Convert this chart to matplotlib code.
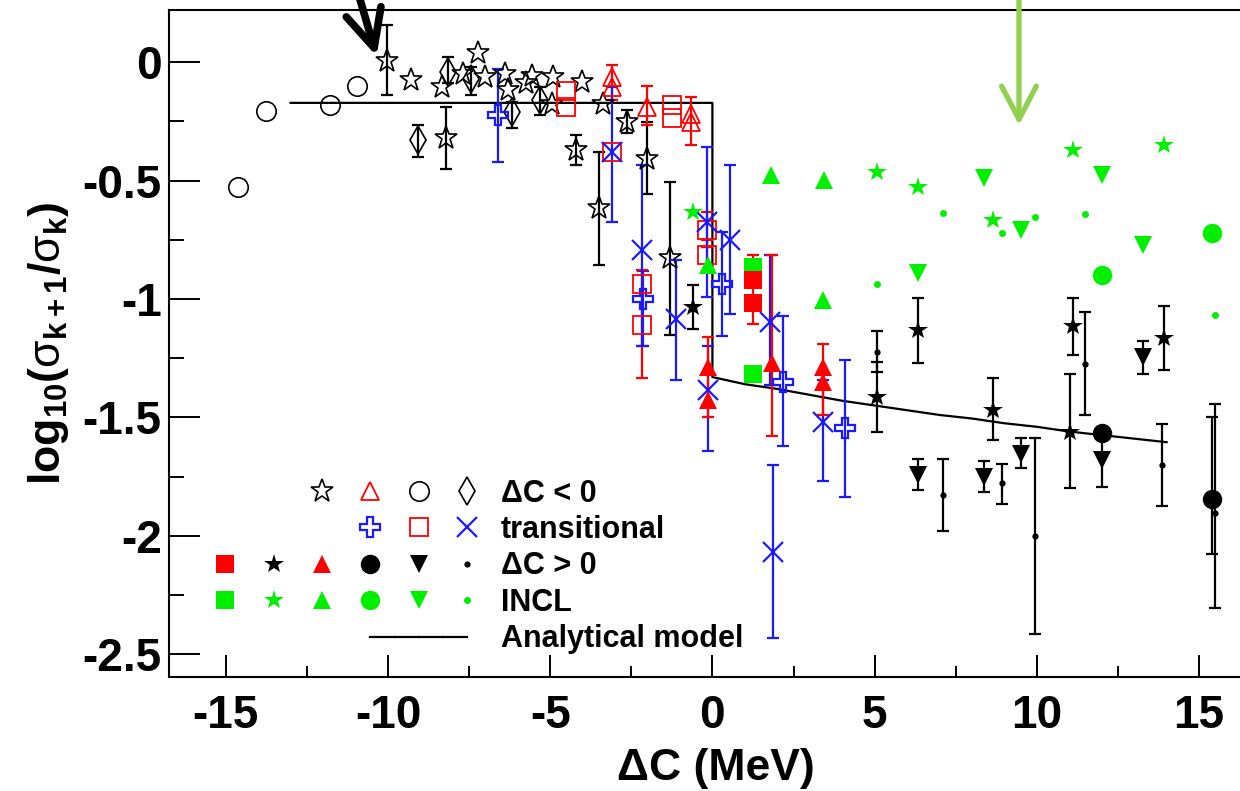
import numpy as np
import matplotlib
matplotlib.use("Agg")
import matplotlib.pyplot as plt
from matplotlib.lines import Line2D
from matplotlib.legend_handler import HandlerTuple

nan = np.nan

# Delta C < 0 : open markers
star_open_x = [-10.02, -9.30, -8.34, -8.21, -7.22, -7.68, -7.01, -6.39, -6.29, -5.75,
               -5.57, -4.90, -4.95, -4.03, -3.36, -2.64, -4.20, -3.50, -2.03, -1.31]
star_open_y = [0.004, -0.076, -0.104, -0.322, 0.037, -0.048, -0.062, -0.048, -0.118, -0.090,
               -0.060, -0.062, -0.175, -0.083, -0.175, -0.252, -0.372, -0.618, -0.407, -0.829]
star_open_lo = [-0.139, nan, nan, -0.452, nan, nan, nan, nan, nan, nan,
                nan, nan, nan, nan, nan, -0.301, -0.435, -0.857, -0.557, -1.153]
star_open_hi = [0.156, nan, nan, -0.189, nan, nan, nan, nan, nan, nan,
                nan, nan, nan, nan, nan, -0.203, -0.308, -0.379, -0.252, -0.508]

diam_x = [-8.14, -7.45, -9.07, -6.19, -5.31]
diam_y = [-0.041, -0.073, -0.329, -0.210, -0.160]
diam_lo = [-0.090, -0.139, -0.400, -0.280, -0.224]
diam_hi = [0.020, -0.020, -0.266, -0.170, -0.104]

circ_open_x = [-14.61, -13.77, -11.79, -10.96]
circ_open_y = [-0.527, -0.207, -0.179, -0.101]

tri_open_x = [-3.09, -3.09, -2.03, -0.66, -0.66]
tri_open_y = [-0.062, -0.104, -0.189, -0.217, -0.252]
tri_open_lo = [nan, -0.160, -0.266, nan, -0.352]
tri_open_hi = [nan, -0.013, -0.101, nan, -0.147]

# transitional
plus_x = [-6.60, -2.13, 0.31, 2.17, 4.09]
plus_y = [-0.224, -1.001, -0.935, -1.350, -1.547]
plus_lo = [-0.421, -1.200, -1.157, -1.622, -1.836]
plus_hi = [-0.031, -0.880, -0.717, -1.073, -1.258]

sq_open_x = [-4.52, -4.52, -1.24, -1.24, -3.09, -2.18, -2.18, -0.18, -0.18]
sq_open_y = [-0.121, -0.191, -0.182, -0.238, -0.379, -0.935, -1.111, -0.709, -0.815]
sq_open_lo = [nan, nan, nan, nan, nan, nan, -1.336, -0.780, -0.880]
sq_open_hi = [nan, nan, nan, nan, nan, nan, -0.878, -0.632, -0.750]

cross_x = [-3.09, -2.18, -1.13, -0.18, 0.54, -0.13, 1.78, 1.86, 3.42]
cross_y = [-0.379, -0.794, -1.083, -0.674, -0.752, -1.385, -1.097, -2.068, -1.519]
cross_lo = [-0.674, -1.200, -1.343, -0.991, -1.064, -1.641, -1.364, -2.430, -1.769]
cross_hi = [-0.104, -0.435, -0.836, -0.358, -0.435, -1.200, -0.815, -1.702, -1.343]

# Delta C > 0 : filled markers
sq_red_x = [1.24, 1.24]
sq_red_y = [-0.920, -1.019]
sq_red_lo = [nan, -1.106]
sq_red_hi = [nan, -0.815]

star_x = [-0.61, 6.33, 11.13, 13.92, 5.06, 8.66, 11.02]
star_y = [-1.033, -1.132, -1.115, -1.167, -1.413, -1.467, -1.561]
star_lo = [-1.125, -1.272, -1.237, -1.300, -1.564, -1.594, -1.800]
star_hi = [-0.942, -0.994, -0.994, -1.030, -1.266, -1.336, -1.315]

tri_red_x = [-0.13, -0.13, 1.85, 3.42, 3.42]
tri_red_y = [-1.287, -1.427, -1.272, -1.287, -1.350]
tri_red_lo = [nan, -1.500, -1.579, nan, -1.490]
tri_red_hi = [nan, -1.160, -0.815, nan, -1.190]

circ_x = [12.02, 15.41]
circ_y = [-1.568, -1.843]
circ_lo = [nan, -2.078]
circ_hi = [nan, -1.500]

dtri_x = [13.28, 12.02, 6.33, 8.37, 9.50]
dtri_y = [-1.244, -1.681, -1.744, -1.751, -1.653]
dtri_lo = [-1.315, -1.793, -1.807, -1.815, -1.716]
dtri_hi = [-1.178, -1.568, -1.678, -1.685, -1.586]

dot_x = [5.06, 11.49, 7.12, 8.94, 9.94, 13.87, 15.49]
dot_y = [-1.223, -1.275, -1.826, -1.779, -2.000, -1.702, -1.902]
dot_lo = [-1.310, -1.491, -1.979, -1.864, -2.416, -1.874, -2.307]
dot_hi = [-1.136, -1.057, -1.674, -1.695, -1.586, -1.529, -1.444]

# INCL
incl_sq_x = [1.24, 1.24]
incl_sq_y = [-0.864, -1.315]
incl_star_x = [-0.61, 5.06, 6.33, 8.66, 11.13, 13.92]
incl_star_y = [-0.632, -0.463, -0.527, -0.667, -0.372, -0.348]
incl_tri_x = [-0.13, 1.81, 3.43, 3.42]
incl_tri_y = [-0.857, -0.477, -0.498, -1.005]
incl_circ_x = [12.02, 15.41]
incl_circ_y = [-0.900, -0.723]
incl_dtri_x = [8.37, 9.50, 6.33, 12.02, 13.28]
incl_dtri_y = [-0.491, -0.709, -0.892, -0.477, -0.773]
incl_dot_x = [5.06, 7.12, 8.94, 9.94, 11.49, 15.49]
incl_dot_y = [-0.938, -0.639, -0.723, -0.656, -0.642, -1.068]

# analytical model
model_x = [-13.0, 0.0, 0.0, 1, 2, 3, 4, 5, 6, 7, 8, 9, 10, 11, 12, 13, 14]
model_y = [-0.172, -0.172, -1.330, -1.360, -1.380, -1.405, -1.430, -1.450, -1.470,
           -1.490, -1.505, -1.525, -1.540, -1.560, -1.575, -1.590, -1.605]

plt.rcParams['font.family'] = ['Liberation Sans', 'DejaVu Sans']
plt.rcParams['font.weight'] = 'bold'
plt.rcParams['mathtext.fontset'] = 'custom'
plt.rcParams['mathtext.rm'] = 'Liberation Sans:weight=normal'
plt.rcParams['mathtext.it'] = 'Liberation Sans:weight=normal'
plt.rcParams['mathtext.bf'] = 'Liberation Sans:weight=bold'
plt.rcParams['mathtext.default'] = 'rm'

RED, BLUE, GREEN = '#ff0000', '#1a1aff', '#00f000'

fig = plt.figure(figsize=(12.4, 7.91), dpi=100)
ax = fig.add_axes([0.136, 0.1437, 0.8833, 0.8436])

styles = {
    'star_open': dict(marker='*', ms=17, mfc='none', mec='k', mew=1.2),
    'tri_open': dict(marker='^', ms=13, mfc='none', mec=RED, mew=1.3),
    'circ_open': dict(marker='o', ms=14, mfc='none', mec='k', mew=1.2),
    'diam': dict(marker='d', ms=14, mfc='none', mec='k', mew=1.2),
    'plus': dict(marker='P', ms=15, mfc='none', mec=BLUE, mew=1.6),
    'sq_open': dict(marker='s', ms=13, mfc='none', mec=RED, mew=1.3),
    'cross': dict(marker='x', ms=14, mfc='none', mec=BLUE, mew=1.6),
    'sq_red': dict(marker='s', ms=13, mfc=RED, mec=RED, mew=0),
    'star': dict(marker='*', ms=15, mfc='k', mec='k', mew=0),
    'tri_red': dict(marker='^', ms=13, mfc=RED, mec=RED, mew=0),
    'circ': dict(marker='o', ms=14, mfc='k', mec='k', mew=0),
    'dtri': dict(marker='v', ms=13, mfc='k', mec='k', mew=0),
    'dot': dict(marker='o', ms=4.5, mfc='k', mec='k', mew=0),
    'incl_sq': dict(marker='s', ms=13, mfc=GREEN, mec=GREEN, mew=0),
    'incl_star': dict(marker='*', ms=15, mfc=GREEN, mec=GREEN, mew=0),
    'incl_tri': dict(marker='^', ms=13, mfc=GREEN, mec=GREEN, mew=0),
    'incl_circ': dict(marker='o', ms=14, mfc=GREEN, mec=GREEN, mew=0),
    'incl_dtri': dict(marker='v', ms=13, mfc=GREEN, mec=GREEN, mew=0),
    'incl_dot': dict(marker='o', ms=5, mfc=GREEN, mec=GREEN, mew=0),
}


def draw(x, y, style, color, lo=None, hi=None):
    x = np.asarray(x, float)
    y = np.asarray(y, float)
    if lo is not None:
        lo = np.asarray(lo, float)
        hi = np.asarray(hi, float)
        m = ~np.isnan(lo)
        ax.errorbar(x[m], y[m], yerr=[y[m] - lo[m], hi[m] - y[m]], fmt='none',
                    ecolor=color, elinewidth=1.6, capsize=4.5, capthick=1.6, zorder=2)
    ax.plot(x, y, ls='none', zorder=3, **styles[style])


ax.plot(model_x, model_y, color='k', lw=1.6, zorder=2)

draw(star_open_x, star_open_y, 'star_open', 'k', star_open_lo, star_open_hi)
draw(diam_x, diam_y, 'diam', 'k', diam_lo, diam_hi)
draw(circ_open_x, circ_open_y, 'circ_open', 'k')
draw(tri_open_x, tri_open_y, 'tri_open', RED, tri_open_lo, tri_open_hi)
draw(plus_x, plus_y, 'plus', BLUE, plus_lo, plus_hi)
draw(sq_open_x, sq_open_y, 'sq_open', RED, sq_open_lo, sq_open_hi)
draw(cross_x, cross_y, 'cross', BLUE, cross_lo, cross_hi)
draw(incl_sq_x, incl_sq_y, 'incl_sq', GREEN)
draw(sq_red_x, sq_red_y, 'sq_red', RED, sq_red_lo, sq_red_hi)
draw(star_x, star_y, 'star', 'k', star_lo, star_hi)
draw(tri_red_x, tri_red_y, 'tri_red', RED, tri_red_lo, tri_red_hi)
draw(circ_x, circ_y, 'circ', 'k', circ_lo, circ_hi)
draw(dtri_x, dtri_y, 'dtri', 'k', dtri_lo, dtri_hi)
draw(dot_x, dot_y, 'dot', 'k', dot_lo, dot_hi)
draw(incl_star_x, incl_star_y, 'incl_star', GREEN)
draw(incl_tri_x, incl_tri_y, 'incl_tri', GREEN)
draw(incl_circ_x, incl_circ_y, 'incl_circ', GREEN)
draw(incl_dtri_x, incl_dtri_y, 'incl_dtri', GREEN)
draw(incl_dot_x, incl_dot_y, 'incl_dot', GREEN)

# arrows pointing at data
ax.annotate('', xy=(-10.35, 0.025), xytext=(-11.15, 0.40), annotation_clip=False,
            arrowprops=dict(arrowstyle='->,head_length=2.7,head_width=1.3', lw=5.5,
                            color='k', shrinkA=0, shrinkB=0))
ax.annotate('', xy=(9.45, -0.266), xytext=(9.45, 0.40), annotation_clip=False,
            arrowprops=dict(arrowstyle='->,head_length=2.4,head_width=1.25', lw=3.8,
                            color='#92d050', shrinkA=0, shrinkB=0))

# legend laid out as a grid of markers
blank = Line2D([], [], ls='none', marker='')
def proxy(name):
    return Line2D([], [], ls='none', **styles[name])
mline = Line2D([], [], color='k', lw=1.6)
rows = [
    (blank, blank, proxy('star_open'), proxy('tri_open'), proxy('circ_open'), proxy('diam')),
    (blank, blank, blank, proxy('plus'), proxy('sq_open'), proxy('cross')),
    (proxy('sq_red'), proxy('star'), proxy('tri_red'), proxy('circ'), proxy('dtri'), proxy('dot')),
    (proxy('incl_sq'), proxy('incl_star'), proxy('incl_tri'), proxy('incl_circ'),
     proxy('incl_dtri'), proxy('incl_dot')),
    (blank,) * 7 + (mline,) * 4 + (blank,),
]
labels = ['ΔC < 0', 'transitional', 'ΔC > 0', 'INCL', 'Analytical model']
ax.legend(rows, labels, handler_map={tuple: HandlerTuple(ndivide=None, pad=0)},
          loc='lower left', bbox_to_anchor=(0.0296, 0.0345), borderaxespad=0, borderpad=0,
          frameon=False, handlelength=9.5, handletextpad=0.3, labelspacing=0.21,
          prop=dict(family='Liberation Sans', weight='bold', size=22))

ax.set_xlim(-16.76, 17.0)
ax.set_ylim(-2.598, 0.22)
ax.set_xticks([-15, -10, -5, 0, 5, 10, 15])
ax.set_xticks(np.arange(-15, 16, 2.5), minor=True)
ax.set_yticks([0, -0.5, -1, -1.5, -2, -2.5])
ax.set_yticks(np.arange(-2.5, 0.01, 0.25), minor=True)
ax.set_yticklabels(['0', '-0.5', '-1', '-1.5', '-2', '-2.5'])
ax.set_xticklabels(['-15', '-10', '-5', '0', '5', '10', '15'])
ax.tick_params(axis='x', which='major', direction='in', length=16, width=1.4, pad=12, labelsize=33)
ax.tick_params(axis='x', which='minor', direction='in', length=8, width=1.4)
ax.tick_params(axis='y', which='major', direction='in', length=22, width=1.4, pad=5, labelsize=33)
ax.tick_params(axis='y', which='minor', direction='in', length=11, width=1.4)
for s in ax.spines.values():
    s.set_linewidth(1.5)

ax.set_xlabel('ΔC (MeV)', fontsize=32, fontweight='bold', labelpad=7)
ax.set_ylabel(r'$\mathbf{log_{10}(}σ_{\mathbf{k+1}}\mathbf{/}σ_{\mathbf{k}}\mathbf{)}$',
              fontsize=32, labelpad=8)

fig.savefig('out.png', dpi=100)
